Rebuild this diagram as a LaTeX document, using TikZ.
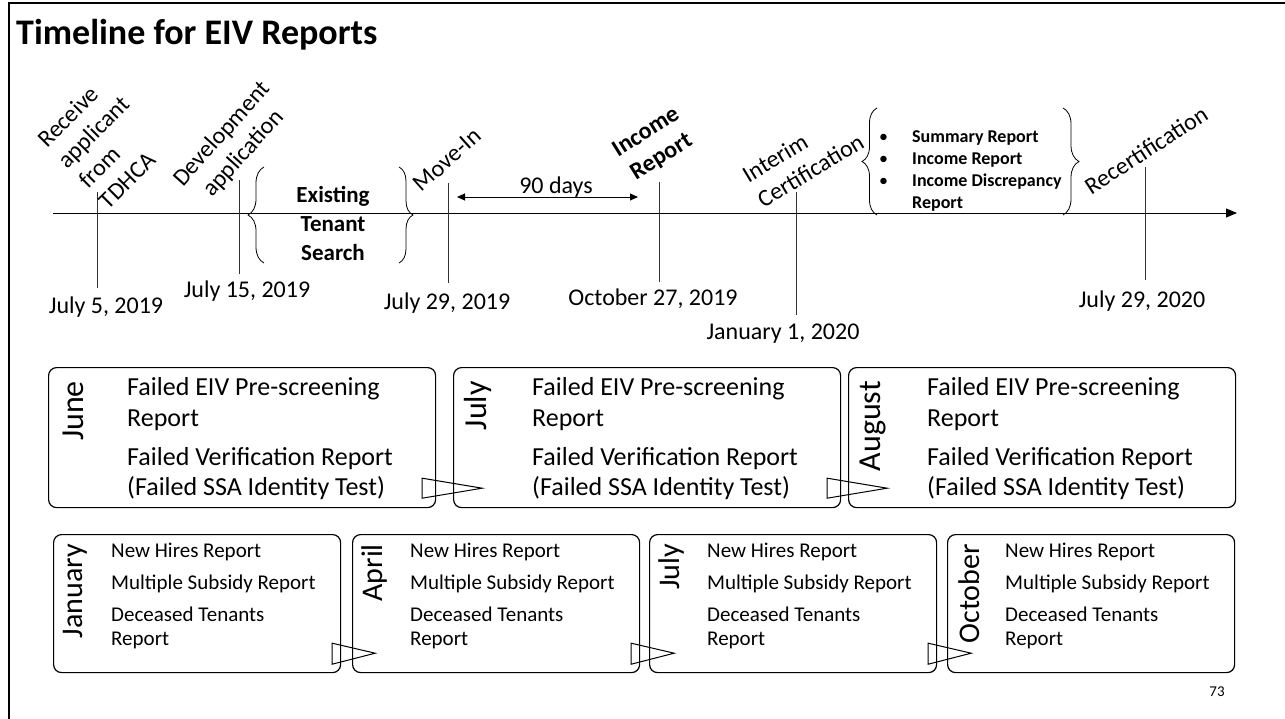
\documentclass[tikz,border=0pt]{standalone}
\usepackage{fontspec}
\setmainfont{Carlito}
\usetikzlibrary{arrows.meta,decorations.pathreplacing,calc}
\begin{document}
\begin{tikzpicture}[x=1pt,y=-1pt,
  lbl/.style={font=\fontsize{24}{29}\selectfont, inner sep=0},
  lblb/.style={font=\bfseries\fontsize{24}{29}\selectfont, inner sep=0},
  tick/.style={draw=black!80, line width=0.9},
  axis/.style={line width=0.9, -{Triangle[length=11,width=9]}},
  dbl/.style={line width=0.9, {Triangle[length=8,width=7]}-{Triangle[length=8,width=7]}},
  mbox/.style={draw, rounded corners=8, line width=1.2, inner sep=0},
  bigbox/.style={mbox, minimum width=387, minimum height=140, anchor=north west},
  smallbox/.style={mbox, minimum width=287, minimum height=138, anchor=north west},
  monthA/.style={rotate=90, anchor=east, inner sep=0, font=\fontsize{32}{38}\selectfont},
  monthB/.style={rotate=90, anchor=east, inner sep=0, font=\fontsize{30}{36}\selectfont},
  txtA/.style={anchor=base west, inner sep=0, font=\fontsize{26}{31}\selectfont},
  txtB/.style={anchor=base west, inner sep=0, font=\fontsize{21}{25}\selectfont},
  bul/.style={anchor=base west, inner sep=0, font=\bfseries\fontsize{18}{22}\selectfont},
  tri/.style={draw, line width=1, line join=miter},
  brc/.style={decorate, decoration={brace, amplitude=#1}, line width=0.8}
]
\useasboundingbox (0,0) rectangle (1285,719);

% frame
\coordinate (f0) at (9,730);
\coordinate (f1) at (9,3);
\coordinate (f2) at (1295,3);
\draw[line width=2.2] (f0) -- (f1) -- (f2);

% title
\node[anchor=base west, inner sep=0, font=\bfseries\fontsize{36}{42}\selectfont] (title) at (16,45) {Timeline for EIV Reports};

% axis
\coordinate (ax0) at (53,213);
\coordinate (ax1) at (1237,213);
\draw[axis] (ax0) -- (ax1);

% ticks
\foreach \i/\x/\a/\b in {1/97/192/288, 2/239/180/274, 3/448/183/283, 4/659/182/282, 5/796/192/315, 6/1145/167/280}{
  \coordinate (t\i a) at (\x,\a);
  \coordinate (t\i b) at (\x,\b);
  \draw[tick] (t\i a) -- (t\i b);
}

% dates
\node[lbl] (d1) at (106,307) {July 5, 2019};
\node[lbl] (d2) at (247,291) {July 15, 2019};
\node[lbl] (d3) at (447,303) {July 29, 2019};
\node[lbl] (d4) at (653,299) {October 27, 2019};
\node[lbl] (d5) at (783,334) {January 1, 2020};
\node[lbl] (d6) at (1142,301) {July 29, 2020};

% rotated labels
\node[lbl, rotate=45, align=left] (l1) at (104,142) {Receive\\applicant\\from\\TDHCA};
\node[lbl, rotate=48, align=center] (l2) at (233,144) {Development\\application};
\node[lbl, rotate=42] (l3) at (447,160) {Move-In};
\node[lblb, rotate=32, align=center] (l4) at (654,145) {Income\\Report};
\node[lbl, rotate=31, align=left] (l5) at (803,158) {Interim\\Certification};
\node[lbl, rotate=33] (l6) at (1146,150) {Recertification};

% 90 days
\coordinate (n0) at (457,197);
\coordinate (n1) at (638,197);
\draw[dbl] (n0) -- (n1);
\node[lbl] (nd) at (556,187) {90 days};

% braces group 1
\coordinate (b1a) at (264,263);
\coordinate (b1b) at (264,167);
\coordinate (b2a) at (399,167);
\coordinate (b2b) at (399,263);
\draw[brc=16] (b1a) -- (b1b);
\draw[brc=14] (b2a) -- (b2b);
\node[lblb, font=\bfseries\fontsize{23}{29}\selectfont, align=center] (ets) at (333,223) {Existing\\Tenant\\Search};

% braces group 2
\coordinate (b3a) at (877,215);
\coordinate (b3b) at (877,108);
\coordinate (b4a) at (1063,108);
\coordinate (b4b) at (1063,215);
\draw[brc=15] (b3a) -- (b3b);
\draw[brc=16] (b4a) -- (b4b);
\foreach \i/\y/\t in {1/143/Summary Report, 2/165/Income Report, 3/187/Income Discrepancy}{
  \node[bul, font=\fontsize{18}{22}\selectfont] (bb\i) at (879,\y) {\textbullet};
  \node[bul] (bt\i) at (912,\y) {\t};
}
\node[bul] (bt4) at (912,209) {Report};

% upper boxes
\foreach \n/\x/\m in {A1/48/June, A2/453/July, A3/848/August}{
  \node[bigbox] (\n) at (\x,367) {};
  \node[monthA] (\n m) at ($(\n.north west)+(25,14)$) {\m};
  \node[txtA] (\n a) at ($(\n.north west)+(79,28)$) {Failed EIV Pre-screening};
  \node[txtA] (\n b) at ($(\n.north west)+(79,59)$) {Report};
  \node[txtA] (\n c) at ($(\n.north west)+(79,98)$) {Failed Verification Report};
  \node[txtA] (\n d) at ($(\n.north west)+(79,128)$) {(Failed SSA Identity Test)};
}
\foreach \n in {A1, A2}{
  \draw[tri] ($(\n.south east)+(-14,-30)$) -- ($(\n.south east)+(46,-20)$) -- ($(\n.south east)+(-14,-10)$) -- cycle;
}

% lower boxes
\foreach \n/\x/\m in {B1/53/January, B2/352/April, B3/649/July, B4/947/October}{
  \node[smallbox] (\n) at (\x,534) {};
  \node[monthB] (\n m) at ($(\n.north west)+(22,10)$) {\m};
  \node[txtB] (\n a) at ($(\n.north west)+(58,23)$) {New Hires Report};
  \node[txtB] (\n b) at ($(\n.north west)+(58,55)$) {Multiple Subsidy Report};
  \node[txtB] (\n c) at ($(\n.north west)+(58,87)$) {Deceased Tenants};
  \node[txtB] (\n d) at ($(\n.north west)+(58,111)$) {Report};
}
\foreach \n in {B1, B2, B3}{
  \draw[tri] ($(\n.south east)+(-9,-30)$) -- ($(\n.south east)+(34,-20)$) -- ($(\n.south east)+(-9,-9)$) -- cycle;
}

% page number
\node[inner sep=0, font=\fontsize{15}{18}\selectfont] (pg) at (1217,692) {73};
\end{tikzpicture}
\end{document}
